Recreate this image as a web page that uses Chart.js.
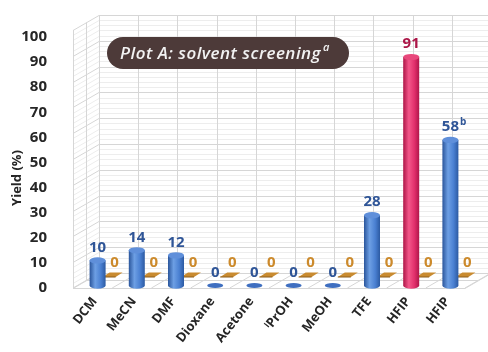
<!DOCTYPE html>
<html>
<head>
<meta charset="utf-8">
<script src="https://cdn.jsdelivr.net/npm/chart.js@4.4.1/dist/chart.umd.min.js"></script>
<style>
  html, body { margin: 0; padding: 0; background: #fff; }
  #wrap { width: 488px; height: 352px; }
</style>
</head>
<body>
<div id="wrap"><canvas id="chart"></canvas></div>
<script>
// data
const solvents = ['DCM', 'MeCN', 'DMF', 'Dioxane', 'Acetone', '\u2071PrOH', 'MeOH', 'TFE', 'HFIP', 'HFIP'];
const yields = [10, 14, 12, 0, 0, 0, 0, 28, 91, 58];
const yieldNotes = ['', '', '', '', '', '', '', '', '', 'b'];
const backRow = [0, 0, 0, 0, 0, 0, 0, 0, 0, 0];
const highlight = 8; // the pink HFIP bar

const FONT = "'Open Sans', sans-serif";
const DX = 26, DY = 15; // depth of the 3d box
const LABEL_ANGLE = 52;

const BLUE = ['#2a559b', '#6d9fe4', '#4a80d2', '#2c5aa2', '#5f8fda'];
const PINK = ['#ad1446', '#f3578a', '#e2306c', '#b0164a', '#e8487c'];

function cylinder(ctx, cx, top, base, r, c) {
  const ry = 3.2;
  const g = ctx.createLinearGradient(cx - r, 0, cx + r, 0);
  g.addColorStop(0, c[0]);
  g.addColorStop(0.35, c[1]);
  g.addColorStop(0.7, c[2]);
  g.addColorStop(1, c[3]);
  ctx.fillStyle = g;
  ctx.beginPath();
  ctx.moveTo(cx - r, top);
  ctx.lineTo(cx - r, base);
  ctx.ellipse(cx, base, r, ry, 0, Math.PI, 0, true);
  ctx.lineTo(cx + r, top);
  ctx.closePath();
  ctx.fill();
  ctx.fillStyle = c[4];
  ctx.beginPath();
  ctx.ellipse(cx, top, r, ry, 0, 0, Math.PI * 2);
  ctx.fill();
}

const box3d = {
  id: 'box3d',
  beforeDatasetsDraw(chart) {
    const { ctx, chartArea: a } = chart;
    const top = a.top - 7, bot = a.bottom;
    const wy = v => bot - (bot - top) * v / 100;
    const n = solvents.length, cw = a.width / n;
    ctx.save();
    ctx.lineWidth = 1;

    // horizontal lines on side and back wall
    for (let v = 0; v <= 100; v += 2) {
      const yy = Math.round(wy(v)) + 0.5;
      ctx.strokeStyle = v % 10 === 0 ? '#d6d6d6' : '#ededed';
      ctx.beginPath();
      ctx.moveTo(a.left, yy);
      ctx.lineTo(a.left + DX, yy - DY);
      ctx.lineTo(a.right + DX, yy - DY);
      ctx.stroke();
    }
    // vertical lines on back wall and side wall
    ctx.strokeStyle = '#d6d6d6';
    for (let i = 0; i <= n; i++) {
      const xx = Math.round(a.left + i * cw + DX) + 0.5;
      ctx.beginPath();
      ctx.moveTo(xx, wy(100) - DY);
      ctx.lineTo(xx, bot - DY);
      ctx.stroke();
    }
    [0, DX / 2].forEach(d => {
      const xx = Math.round(a.left + d) + 0.5;
      ctx.beginPath();
      ctx.moveTo(xx, wy(100) - d * DY / DX);
      ctx.lineTo(xx, bot - d * DY / DX);
      ctx.stroke();
    });
    // floor
    for (let i = 0; i <= n; i++) {
      const xx = a.left + i * cw;
      ctx.beginPath();
      ctx.moveTo(xx, bot);
      ctx.lineTo(xx + DX, bot - DY);
      ctx.stroke();
    }
    ctx.beginPath();
    ctx.moveTo(a.left + DX / 2, bot - DY / 2);
    ctx.lineTo(a.right + DX / 2, bot - DY / 2);
    ctx.moveTo(a.left, bot + 0.5);
    ctx.lineTo(a.right, bot + 0.5);
    ctx.lineTo(a.right + DX, bot - DY + 0.5);
    ctx.stroke();

    // title badge
    const bx = 107, by = 37, bw = 242, bh = 32;
    ctx.fillStyle = '#4d3a39';
    ctx.beginPath();
    ctx.roundRect(bx, by, bw, bh, bh / 2);
    ctx.fill();
    ctx.fillStyle = '#f2f2f2';
    ctx.textBaseline = 'alphabetic';
    ctx.textAlign = 'left';
    ctx.letterSpacing = '0.5px';
    ctx.font = 'italic 600 17px ' + FONT;
    const t = 'Plot A: solvent screening';
    ctx.fillText(t, 120, 59);
    const w = ctx.measureText(t).width;
    ctx.font = 'italic 600 11px ' + FONT;
    ctx.fillText('a', 122 + w, 51);
    ctx.letterSpacing = '0px';

    // axis title
    ctx.translate(17, 178);
    ctx.rotate(-Math.PI / 2);
    ctx.fillStyle = '#262626';
    ctx.font = 'bold 13px ' + FONT;
    ctx.textAlign = 'center';
    ctx.textBaseline = 'middle';
    ctx.fillText('Yield (%)', 0, 0);
    ctx.restore();
  },
  beforeDatasetDraw() {
    return false;
  },
  afterDatasetsDraw(chart) {
    const ctx = chart.ctx;
    const blue = chart.getDatasetMeta(0).data;
    const back = chart.getDatasetMeta(1).data;
    ctx.save();
    ctx.textAlign = 'center';
    ctx.textBaseline = 'middle';
    ctx.font = 'bold 15px ' + FONT;

    // back row: zero-height slabs
    back.forEach((el, i) => {
      const cx = el.x + 20, cy = el.base - 13.5;
      ctx.fillStyle = '#c98b30';
      ctx.beginPath();
      ctx.moveTo(cx - 10, cy + 2.5);
      ctx.lineTo(cx + 3, cy + 2.5);
      ctx.lineTo(cx + 10, cy - 2);
      ctx.lineTo(cx - 3, cy - 2);
      ctx.closePath();
      ctx.fill();
      ctx.strokeStyle = '#8c5d1a';
      ctx.beginPath();
      ctx.moveTo(cx - 10, cy + 2.5);
      ctx.lineTo(cx + 3, cy + 2.5);
      ctx.stroke();
      ctx.fillStyle = '#cc8a2c';
      ctx.fillText(String(backRow[i]), cx + 2, el.y - 13.5 - 12);
    });

    // front row: cylinders
    blue.forEach((el, i) => {
      const cx = el.x + 5, base = el.base - 2.5, top = el.y - 2.5;
      const c = i === highlight ? PINK : BLUE;
      if (yields[i] > 0) {
        cylinder(ctx, cx, top, base, 8, c);
      } else {
        ctx.fillStyle = '#3f6fc0';
        ctx.beginPath();
        ctx.ellipse(cx, base, 8, 2.4, 0, 0, Math.PI * 2);
        ctx.fill();
      }
      ctx.fillStyle = i === highlight ? '#ab1547' : '#2f5597';
      ctx.font = 'bold 15px ' + FONT;
      const txt = String(yields[i]);
      const ly = top - 13;
      ctx.textAlign = 'center';
      ctx.fillText(txt, cx, ly);
      if (yieldNotes[i]) {
        const w = ctx.measureText(txt).width;
        ctx.font = 'bold 10px ' + FONT;
        ctx.textAlign = 'left';
        ctx.fillText(yieldNotes[i], cx + w / 2 + 1, ly - 5);
      }
    });
    ctx.restore();
  },
  afterDraw(chart) {
    // slanted category labels
    const { ctx, chartArea: a, scales: { x } } = chart;
    ctx.save();
    ctx.fillStyle = '#262626';
    ctx.font = 'bold 13px ' + FONT;
    ctx.textAlign = 'right';
    ctx.textBaseline = 'middle';
    solvents.forEach((s, i) => {
      ctx.save();
      ctx.translate(x.getPixelForTick(i) + 2, a.bottom + 11);
      ctx.rotate(-LABEL_ANGLE * Math.PI / 180);
      ctx.fillText(s, 0, 0);
      ctx.restore();
    });
    ctx.restore();
  }
};

new Chart(document.getElementById('chart'), {
  type: 'bar',
  data: {
    labels: solvents,
    datasets: [
      { data: yields, grouped: false, barThickness: 16, backgroundColor: '#4a80d2' },
      { data: backRow, grouped: false, barThickness: 14, backgroundColor: '#c98b30' }
    ]
  },
  options: {
    responsive: true,
    maintainAspectRatio: false,
    animation: false,
    layout: { padding: { top: 37, right: 23, left: 0, bottom: 0 } },
    plugins: { legend: { display: false }, tooltip: { enabled: false } },
    scales: {
      x: {
        grid: { display: false },
        border: { display: false },
        ticks: { display: false },
        afterFit: s => { s.height = 64; }
      },
      y: {
        min: 0, max: 100,
        grid: { display: false },
        border: { display: false },
        ticks: {
          stepSize: 10, padding: 18, color: '#262626',
          font: { family: FONT, weight: 'bold', size: 15 }
        },
        afterFit: s => { s.width = 73; }
      }
    }
  },
  plugins: [box3d]
});
</script>
</body>
</html>
